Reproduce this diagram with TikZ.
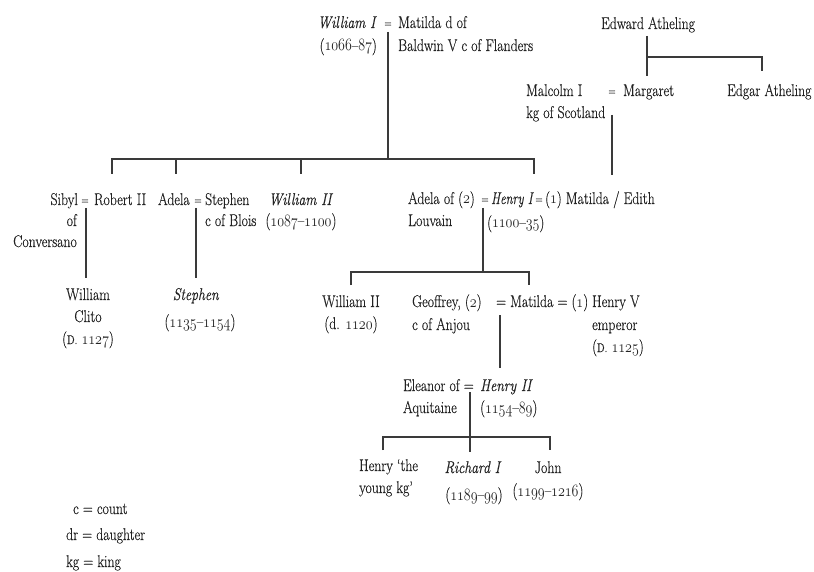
\documentclass[tikz,border=0pt]{standalone}
\usepackage{fontspec}
\setmainfont{Latin Modern Roman}[FakeBold=0.5]
\usepackage{tikz}
\definecolor{ink}{HTML}{222222}
\definecolor{linec}{HTML}{3A3A3A}
\newcommand\osn[1]{{\usefont{OML}{lmm}{m}{it}#1}}
\newcommand\smc[1]{{\fontsize{12.5}{14}\selectfont #1}}
\begin{document}
\begin{tikzpicture}[x=1pt,y=-1pt,
  lbl/.style={inner sep=0pt, font=\fontsize{17}{19}\selectfont, xscale=0.81, text=ink},
  lw/.style={lbl, anchor=base west},
  le/.style={lbl, anchor=base east},
  lc/.style={lbl, anchor=base},
  eq/.style={inner sep=0pt, anchor=base, font=\fontsize{12}{14}\selectfont, xscale=0.8, text=ink},
  ln/.style={draw=linec, line width=1.2pt}]
\useasboundingbox (0,0) rectangle (814,572);
\fill[white] (0,0) rectangle (814,572);

% ---- generation 1
\node[le] (wi) at (377,28) {\textit{William I}};
\node[eq] (wieq) at (388,27) {=};
\node[le] (wid) at (377,51) {(\osn{1066}--\osn{87})};
\node[lw] (mat) at (398,28) {Matilda d of};
\node[lw] (matb) at (398,51) {Baldwin V c of Flanders};

\node[lw] (edw) at (601,29) {Edward Atheling};
\node[lw] (mal) at (526,96) {Malcolm I};
\node[lw] (malb) at (526,118) {kg of Scotland};
\node[eq] (mareq) at (612,95) {=};
\node[lw] (mar) at (623,96) {Margaret};
\node[lw] (edg) at (727,96) {Edgar Atheling};

% ---- generation 2
\node[le] (sib) at (78,205) {Sibyl};
\node[le] (sib2) at (77,226) {of};
\node[le] (sib3) at (77,247) {Conversano};
\node[eq] (sibeq) at (85,204) {=};
\node[lw] (rob) at (94,205) {Robert II};

\node[lw] (ade) at (158,205) {Adela};
\node[eq] (adeeq) at (198,204) {=};
\node[lw] (ste) at (205,205) {Stephen};
\node[lw] (ste2) at (205,226) {c of Blois};

\node[lc] (w2) at (301,205) {\textit{William II}};
\node[lc] (w2d) at (301,226) {(\osn{1087}--\osn{1100})};

\node[lw] (ad2) at (408,204) {Adela of (\osn{2})};
\node[eq] (ad2eq) at (485,203) {=};
\node[lw] (lou) at (408,226) {Louvain};
\node[lw, xscale=0.9] (h1) at (491,204) {\textit{Henry I}};
\node[lw] (h1d) at (487,228) {(\osn{1100}--\osn{35})};
\node[eq] (h1eq) at (539,203) {=};
\node[lw] (mte) at (545,204) {(\osn{1}) Matilda / Edith};

% ---- generation 3
\node[lc] (cl1) at (88,300) {William};
\node[lc] (cl2) at (88,322) {Clito};
\node[lc] (cl3) at (88,344) {(\smc{D.} \osn{1127})};

\node[lc] (st) at (196,300) {\textit{Stephen}};
\node[lc] (std) at (200,327) {(\osn{1135}--\osn{1154})};

\node[lc] (wb) at (351,307) {William II};
\node[lc] (wbd) at (351,329) {(d. \osn{1120})};

\node[lw] (geo) at (412,307) {Geoffrey, (\osn{2})};
\node[lw] (geo2) at (412,330) {c of Anjou};
\node[lw] (mt3) at (496,307) {= Matilda = (\osn{1})};
\node[lw] (h5) at (592,307) {Henry V};
\node[lw] (h52) at (592,330) {emperor};
\node[lw] (h53) at (592,352) {(\smc{D.} \osn{1125})};

% ---- generation 4
\node[lw] (ele) at (403,391) {Eleanor of =};
\node[lw] (ele2) at (403,413) {Aquitaine};
\node[lw] (h2) at (480,391) {\textit{Henry II}};
\node[lw] (h2d) at (480,413) {(\osn{1154}--\osn{89})};

% ---- generation 5
\node[lw] (hy) at (359,471) {Henry `the};
\node[lw] (hy2) at (359,493) {young kg'};
\node[lc] (r1) at (473,473) {\textit{Richard I}};
\node[lc] (r1d) at (474,500) {(\osn{1189}--\osn{99})};
\node[lc] (jo) at (548,473) {John};
\node[lc] (jod) at (548,496) {(\osn{1199}--\osn{1216})};

% ---- legend
\node[lw] (lg1) at (73,514) {c = count};
\node[lw] (lg2) at (66,540) {dr = daughter};
\node[lw] (lg3) at (66,567) {kg = king};

% ---- junction coordinates
\coordinate (a0) at (388,32);
\coordinate (a1) at (388,159);
\coordinate (aL) at (112,159);
\coordinate (aR) at (534,159);
\coordinate (d1) at (112,174);
\coordinate (d2t) at (176,159);
\coordinate (d2) at (176,174);
\coordinate (d3t) at (301,159);
\coordinate (d3) at (301,174);
\coordinate (d4) at (534,174);

\coordinate (e0) at (647,36);
\coordinate (e1) at (647,76);
\coordinate (e2) at (647,57);
\coordinate (e3) at (762,57);
\coordinate (e4) at (762,71);

\coordinate (m0) at (612,115);
\coordinate (m1) at (612,175);

\coordinate (r0) at (86,208);
\coordinate (r1e) at (86,278);
\coordinate (s0) at (196,208);
\coordinate (s1) at (196,278);

\coordinate (h0) at (483,208);
\coordinate (h1j) at (483,272);
\coordinate (hL) at (351,272);
\coordinate (hR) at (529,272);
\coordinate (hLd) at (351,285);
\coordinate (hRd) at (529,285);

\coordinate (q0) at (500,315);
\coordinate (q1) at (500,368);

\coordinate (g0) at (470,392);
\coordinate (g1) at (470,452);
\coordinate (gL) at (383,437);
\coordinate (gR) at (550,437);
\coordinate (gLd) at (383,450);
\coordinate (gRd) at (550,450);

% ---- connectors
\draw[ln] (a0) -- (a1);
\draw[ln] (d1) -- (aL) -- (aR) -- (d4);
\draw[ln] (d2t) -- (d2);
\draw[ln] (d3t) -- (d3);

\draw[ln] (e0) -- (e1);
\draw[ln] (e2) -- (e3) -- (e4);
\draw[ln] (m0) -- (m1);

\draw[ln] (r0) -- (r1e);
\draw[ln] (s0) -- (s1);

\draw[ln] (h0) -- (h1j);
\draw[ln] (hLd) -- (hL) -- (hR) -- (hRd);

\draw[ln] (q0) -- (q1);

\draw[ln] (g0) -- (g1);
\draw[ln] (gLd) -- (gL) -- (gR) -- (gRd);
\end{tikzpicture}
\end{document}
